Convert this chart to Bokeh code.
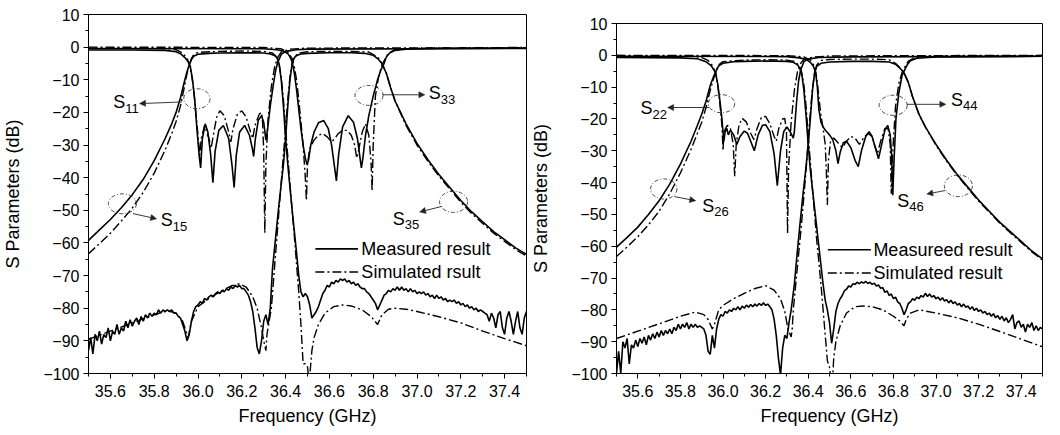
import numpy as np
from bokeh.plotting import figure
from bokeh.layouts import row, column
from bokeh.models import FixedTicker, Arrow, NormalHead, Range1d, PrintfTickFormatter, Spacer
from bokeh.embed import file_html
from bokeh.resources import INLINE
from bokeh.core.properties import value

FONT = "Liberation Sans"
STEP = 0.01

X_TICKS = [35.6, 35.8, 36.0, 36.2, 36.4, 36.6, 36.8, 37.0, 37.2, 37.4]
X_MINOR = [35.5, 35.7, 35.9, 36.1, 36.3, 36.5, 36.7, 36.9, 37.1, 37.3, 37.5]
Y_TICKS = [-100, -90, -80, -70, -60, -50, -40, -30, -20, -10, 0, 10]
Y_MINOR = [-95, -85, -75, -65, -55, -45, -35, -25, -15, -5, 5]

# ======================= LEFT PANEL =======================
L_S15_M_F = [35.50,35.55,35.60,35.65,35.70,35.75,35.80,35.85,35.88,35.90,
             35.92,35.94,35.95,35.96,35.97,35.98,36.00,36.05,36.10,36.20,
             36.30,36.33,36.35,36.36,36.37,36.38,36.39,36.40,36.41,36.43,
             36.45,36.46]
L_S15_M_DB = [-59.2,-56,-52.8,-49.2,-45.2,-40.5,-34.8,-28,-23.5,-20,
              -15.5,-10,-7.5,-5.5,-3.8,-2.8,-2.2,-1.9,-1.8,-1.7,
              -1.8,-2.1,-2.6,-3.2,-5,-10,-18,-28,-36,-50,
              -63,-70]
L_S15_M_NOISE_START = 36.47
L_S15_M_NOISE = [-75,-76.5,-75.5,-76.5,-79,-83,-82,-81,-79.5,-77.5,
                 -75.5,-74.5,-73,-73.5,-72,-72.5,-71.5,-72,-71,-71.5,
                 -71,-72,-71.5,-72.5,-72,-73,-72.5,-73.5,-74,-74,
                 -75,-75.5,-76.5,-77.5,-78.5,-80.5,-79,-77.5,-76,-75.5,
                 -74.5,-75,-74,-74.5,-73.5,-74.5,-73.5,-74.5,-74,-75,
                 -74,-75,-74.5,-75.5,-75,-75.5,-75,-76,-75.5,-76.5,
                 -76,-77,-76,-77,-76.5,-77.5,-77,-78,-77.5,-78,
                 -77.5,-78.5,-78,-79,-78.5,-79.5,-79,-80,-79.5,-80.5,
                 -80,-81,-80.5,-81,-81.5,-82,-84,-81.5,-83,-86,
                 -82,-81,-86,-88,-83,-81,-84,-88,-84,-81,
                 -86,-88,-83,-81]

L_S15_S_F = [35.50,35.55,35.60,35.65,35.70,35.75,35.80,35.85,35.88,35.90,
             35.92,35.94,35.95,35.96,35.97,35.98,36.00,36.10,36.20,36.30,
             36.34,36.36,36.37,36.38,36.39,36.40,36.42,36.44,36.46,36.47,
             36.48,36.49,36.50,36.505,36.51,36.515,36.52,36.53,36.55,36.58,
             36.62,36.66,36.70,36.75,36.79,36.82,36.84,36.87,36.90,36.95,
             37.00,37.10,37.20,37.30,37.40,37.50]
L_S15_S_DB = [-63.3,-60.2,-57,-53.3,-49.3,-44.5,-38.6,-31.5,-26.5,-22.8,
              -18,-11.5,-8,-5.5,-3.5,-2.3,-1.6,-1.3,-1.2,-1.3,
              -1.8,-3,-5,-9,-16,-25,-42,-58,-75,-85,
              -97,-97,-98,-101,-101,-97,-93,-89,-85,-81.5,
              -79.5,-79,-79.3,-80.5,-82.5,-85,-82,-80.3,-80,-80.3,
              -81,-82.6,-84.5,-87,-89.3,-91.5]

L_S35_M_NOISE_START = 35.50
L_S35_M_NOISE = [-93,-89,-94,-88,-90,-87,-91,-88,-89,-86,
                 -90,-87,-88,-85,-88,-86,-87,-84,-86,-83.5,
                 -85.5,-84,-83,-85,-82.5,-84,-82,-83,-81.5,-82.5,
                 -81.5,-82,-80.5,-81.5,-80.5,-81,-80.5,-81,-80.5,-81.5,
                 -81.5,-82.5,-83,-85,-87,-90,-88,-84,-81,-79.5,
                 -79,-78,-78.5,-77,-77.5,-76.5,-76,-76.5,-75.5,-75,
                 -75.5,-74.5,-75,-74,-74.5,-73.5,-74,-73,-73.5,-73,
                 -74,-74,-75,-76,-78,-81,-86,-92,-94,-90,
                 -84,-82,-85,-80]
L_S35_M_F = [36.34,36.355,36.37,36.39,36.40,36.41,36.42,36.43,36.44,36.45,
             36.47,36.50,36.60,36.70,36.76,36.80,36.82,36.84,36.86,36.88,
             36.90,36.95,37.00,37.05,37.10,37.15,37.20,37.25,37.30,37.35,
             37.40,37.45,37.50]
L_S35_M_DB = [-68,-58,-48,-36,-28,-18,-10,-5,-3.2,-2.6,
              -2.1,-1.9,-1.7,-1.7,-1.9,-2.5,-3.5,-5,-8,-12.5,
              -16.5,-23.5,-29.5,-34.5,-39,-43,-47,-50.5,-53.5,-56.5,
              -59,-61.5,-63.5]

L_S35_S_F = [35.50,35.60,35.70,35.80,35.86,35.90,35.93,35.955,35.97,36.00,
             36.05,36.10,36.15,36.19,36.22,36.25,36.27,36.29,36.30,36.31,
             36.315,36.32,36.335,36.35,36.37,36.39,36.40,36.41,36.42,36.43,
             36.44,36.46,36.50,36.60,36.70,36.78,36.82,36.84,36.86,36.88,
             36.90,36.95,37.00,37.05,37.10,37.15,37.20,37.25,37.30,37.35,
             37.40,37.45,37.50]
L_S35_S_DB = [-89.5,-87,-84.5,-82,-80.8,-81.5,-84,-89,-84,-79.5,
              -77,-75,-73.2,-72.5,-73.5,-76.5,-80,-86,-90,-93,
              -88,-86,-80,-67,-50,-33,-25,-16,-9,-5,
              -3,-1.8,-1.4,-1.3,-1.3,-1.5,-3,-5,-8,-12.5,
              -16.5,-24,-30,-35,-39.5,-43.5,-47.5,-51,-54,-57,
              -59.5,-62,-64]

L_S11_M_F = [35.50,35.70,35.85,35.90,35.92,35.94,35.955,35.965,35.975,35.985,
             35.995,36.005,36.012,36.02,36.033,36.045,36.058,36.068,36.078,36.095,
             36.116,36.14,36.155,36.165,36.175,36.19,36.213,36.235,36.248,36.254,
             36.262,36.275,36.29,36.30,36.31,36.318,36.33,36.345,36.355,36.365,
             36.38,36.40,36.45,36.50,37.50]
L_S11_M_DB = [-0.9,-0.9,-1.0,-1.4,-2.0,-3.2,-4.5,-6,-10,-16,
              -25,-33,-37,-28,-23.5,-26,-33,-41.5,-32,-25.5,
              -24,-28,-36,-43,-33,-26,-24,-27,-31,-33.5,
              -28,-22.5,-21,-23,-28.5,-25,-18,-11,-7,-4.5,
              -2.2,-1.3,-0.8,-0.6,-0.4]

L_S11_S_F = [35.50,35.85,35.90,35.93,35.95,35.96,35.97,35.98,35.99,36.00,
             36.008,36.015,36.03,36.05,36.06,36.07,36.085,36.10,36.12,36.14,
             36.15,36.16,36.18,36.20,36.22,36.24,36.25,36.26,36.28,36.29,
             36.295,36.30,36.305,36.31,36.32,36.335,36.35,36.365,36.38,36.42,
             36.50,37.50]
L_S11_S_DB = [-0.3,-0.4,-0.8,-1.8,-3.5,-5,-8,-13,-20,-27,
              -33,-28,-24,-28,-31,-27,-21.5,-19.5,-21,-26,
              -29,-25,-20.5,-19.5,-21.5,-26,-28,-24,-20.5,-20,
              -23,-32,-57,-36,-22,-12,-6,-3,-1.5,-0.6,
              -0.3,-0.2]

L_S33_M_F = [35.50,36.30,36.36,36.39,36.41,36.42,36.43,36.44,36.45,36.46,
             36.47,36.48,36.49,36.498,36.505,36.515,36.53,36.55,36.574,36.595,
             36.61,36.622,36.632,36.642,36.66,36.686,36.71,36.728,36.74,36.746,
             36.753,36.765,36.78,36.80,36.82,36.835,36.848,36.86,36.875,36.90,
             36.95,37.10,37.50]
L_S33_M_DB = [-0.4,-0.5,-0.8,-1.2,-2,-3,-4.5,-8,-13,-19,
              -25,-30,-34,-36,-34.5,-30,-26,-23.2,-22.5,-25,
              -30,-36,-41,-33,-24.5,-21,-23,-28,-34,-37,
              -34,-27,-21,-15,-10,-7,-5.3,-3,-1.8,-1.0,
              -0.6,-0.4,-0.35]

L_S33_S_F = [35.50,36.30,36.38,36.41,36.43,36.44,36.45,36.46,36.47,36.48,
             36.49,36.495,36.50,36.51,36.53,36.55,36.57,36.59,36.61,36.625,
             36.64,36.66,36.68,36.70,36.715,36.725,36.735,36.75,36.765,36.78,
             36.79,36.795,36.80,36.81,36.825,36.84,36.855,36.87,36.90,37.00,
             37.50]
L_S33_S_DB = [0.0,-0.1,-0.5,-1.5,-3.5,-6,-10,-16,-23,-30,
              -40,-47,-36,-31,-28.5,-27,-26.5,-27.5,-29,-28,
              -26.5,-25.5,-25.5,-27,-30,-34,-31,-26,-23.5,-27,
              -35,-44,-30,-15,-9,-5.5,-3.5,-1.8,-0.8,-0.3,
              -0.1]

# ======================= RIGHT PANEL =======================
R_S26_M_F = [35.50,35.55,35.60,35.65,35.70,35.75,35.80,35.85,35.88,35.90,
             35.92,35.94,35.955,35.97,35.98,36.00,36.05,36.10,36.20,36.30,
             36.33,36.35,36.36,36.37,36.38,36.39,36.40,36.41,36.43,36.45,
             36.46]
R_S26_M_DB = [-60.3,-57.2,-54,-50,-45.7,-40.5,-34.2,-27,-22,-18.5,
              -14.5,-9.5,-6.8,-4.6,-3.3,-2.5,-2.0,-1.9,-1.8,-1.9,
              -2.2,-3,-4,-6,-11,-19,-28,-36,-48,-60,
              -66]
R_S26_M_NOISE_START = 36.47
R_S26_M_NOISE = [-72,-77,-80,-84,-90.5,-86,-80.5,-78,-76.5,-75.5,
                 -74,-73.5,-72.5,-72.8,-71.8,-72,-71.3,-71.8,-71.2,-71.6,
                 -71,-71.7,-71.3,-72,-71.6,-72.5,-72.2,-73.2,-73,-74.5,
                 -74,-75.5,-75,-76.5,-76,-77.5,-78,-79.5,-81.5,-80,
                 -78,-77.5,-76.5,-77,-76,-76.5,-75.5,-76,-74.8,-75.8,
                 -75,-76,-75.5,-76.5,-76,-77,-76.2,-77.2,-76.8,-77.8,
                 -77,-78,-77.5,-78.5,-78,-79,-78.2,-79.2,-78.8,-79.8,
                 -79,-80.2,-79.5,-80.5,-80,-81,-80.5,-81.5,-81,-82,
                 -81.2,-82.5,-81.8,-83,-82,-83.5,-82.5,-84,-83,-81.5,
                 -86,-84,-83.5,-85.5,-84.5,-87,-84.5,-85.5,-84,-86.5,
                 -85,-86.5,-85.5,-86]

R_S26_S_F = [35.50,35.55,35.60,35.65,35.70,35.75,35.80,35.85,35.88,35.90,
             35.92,35.94,35.955,35.97,35.98,36.00,36.10,36.20,36.30,36.34,
             36.36,36.37,36.38,36.39,36.40,36.42,36.44,36.46,36.47,36.48,
             36.49,36.50,36.505,36.515,36.52,36.53,36.55,36.58,36.62,36.66,
             36.70,36.75,36.80,36.83,36.85,36.86,36.88,36.92,37.00,37.10,
             37.20,37.30,37.40,37.50]
R_S26_S_DB = [-63.2,-60.2,-57,-53.3,-49,-43.5,-37,-29.5,-24.5,-21,
              -16.5,-11,-7.5,-4.5,-3,-2,-1.5,-1.4,-1.5,-2,
              -3.5,-5.5,-9.5,-16,-25,-42,-58,-72,-80,-88,
              -96,-98,-101,-101,-95,-90,-85,-81,-79,-78.8,
              -79,-80,-82,-83.5,-85,-83,-81,-80,-81,-82.5,
              -84.5,-86.8,-89.2,-91.6]

R_S46_M_NOISE_START = 35.50
R_S46_M_NOISE = [-100,-93,-100,-90,-92,-89,-97,-91,-92,-89.5,
                 -91.5,-89,-90.5,-88.5,-91,-88,-89.5,-87.5,-89,-87,
                 -88.5,-86.5,-88,-86.5,-87.5,-86,-87.5,-85.5,-86.5,-84.5,
                 -86,-84.5,-85.5,-84,-86,-84.5,-85.5,-84.5,-85.5,-85,
                 -85.5,-86,-88,-93,-94,-88,-92,-86,-83,-81.5,
                 -82,-80.5,-81,-80,-80.5,-79.5,-80,-79,-80,-78.8,
                 -79.5,-78.5,-79.2,-78.3,-79,-78.2,-78.8,-78,-78.6,-77.8,
                 -78.6,-78.2,-79,-80,-83,-88,-95,-100.5,-92,-88,
                 -89,-84]
R_S46_M_F = [36.32,36.335,36.345,36.36,36.375,36.39,36.40,36.41,36.42,36.43,
             36.44,36.46,36.50,36.60,36.70,36.78,36.81,36.83,36.85,36.87,
             36.89,36.92,36.95,37.00,37.05,37.10,37.15,37.20,37.25,37.30,
             37.35,37.40,37.45,37.50]
R_S46_M_DB = [-80,-72,-64.5,-54,-44,-35,-28,-20,-11,-5.5,
              -3.5,-2.5,-2.1,-1.9,-1.9,-2.1,-2.8,-4,-5.5,-8.5,
              -13,-18.5,-22.5,-28,-33,-37.5,-41.5,-45.5,-49,-52.5,
              -55.5,-58.5,-61.5,-64]

R_S46_S_F = [35.50,35.60,35.70,35.80,35.87,35.91,35.93,35.95,35.96,35.98,
             36.00,36.05,36.10,36.15,36.20,36.24,36.27,36.29,36.305,36.32,
             36.325,36.33,36.35,36.37,36.39,36.40,36.41,36.42,36.43,36.44,
             36.46,36.50,36.60,36.70,36.78,36.81,36.83,36.85,36.87,36.89,
             36.92,36.95,37.00,37.05,37.10,37.15,37.20,37.25,37.30,37.35,
             37.40,37.45,37.50]
R_S46_S_DB = [-89,-86.7,-84.4,-82,-80.7,-81.5,-83,-86,-84.5,-80,
              -78.6,-76.5,-74.8,-73.3,-72.4,-73.8,-76.5,-80.5,-86,-88.5,
              -86,-80,-66,-52,-36,-27,-18,-10.5,-5.5,-3,
              -1.6,-1.3,-1.2,-1.2,-1.4,-2.5,-3.8,-5.5,-8.5,-13,
              -18.5,-22.5,-28.3,-33.3,-37.8,-41.8,-45.8,-49.3,-52.8,-55.8,
              -58.8,-61.8,-64.3]

R_S22_M_F = [35.50,35.80,35.88,35.92,35.945,35.965,35.975,35.985,35.995,36.00,
             36.004,36.01,36.018,36.025,36.035,36.05,36.065,36.08,36.10,36.115,
             36.13,36.147,36.165,36.185,36.20,36.22,36.24,36.255,36.27,36.285,
             36.30,36.315,36.33,36.335,36.345,36.355,36.365,36.38,36.40,36.45,
             36.60,37.50]
R_S22_M_DB = [-0.7,-0.8,-1.1,-2,-3.3,-5.4,-9,-14,-20,-24,
              -27,-24,-23,-25,-23.5,-25,-28,-25.5,-23.8,-24.5,
              -27,-30,-25,-22,-21.8,-24,-31,-41,-30,-24,
              -22.5,-24,-26,-24,-15,-8,-4.5,-2,-1.2,-0.7,
              -0.5,-0.3]

R_S22_S_F = [35.50,35.85,35.90,35.93,35.95,35.965,35.975,35.985,35.995,36.00,
             36.005,36.02,36.035,36.048,36.055,36.062,36.075,36.09,36.11,36.13,
             36.145,36.16,36.18,36.20,36.22,36.24,36.25,36.262,36.28,36.29,
             36.298,36.303,36.308,36.32,36.335,36.35,36.365,36.38,36.42,36.50,
             37.50]
R_S22_S_DB = [-0.2,-0.3,-0.7,-1.6,-3.2,-5.5,-9,-15,-22,-30,
              -24,-22,-23,-28,-38,-28,-22,-19.8,-21,-24.5,
              -26.5,-23,-19.5,-19.2,-21.5,-25.5,-27,-23,-20,-19.8,
              -24,-56,-35,-21,-11,-5,-2.5,-1.3,-0.6,-0.2,
              0.0]

R_S44_M_F = [35.50,36.30,36.36,36.39,36.41,36.425,36.435,36.443,36.45,36.46,
             36.47,36.48,36.50,36.515,36.53,36.54,36.55,36.565,36.58,36.60,
             36.62,36.635,36.65,36.67,36.686,36.70,36.715,36.73,36.745,36.76,
             36.773,36.785,36.792,36.797,36.803,36.812,36.825,36.84,36.85,36.865,
             36.88,36.91,37.00,37.50]
R_S44_M_DB = [-0.3,-0.4,-0.8,-1.3,-2.2,-3.5,-5.5,-10,-17,-21,
              -22.5,-23.5,-25,-26.5,-30,-34,-30.5,-27.5,-27,-29,
              -33,-35,-30,-25.5,-24,-25.5,-29,-32.5,-28,-23.5,
              -22,-25,-32,-44,-33,-20,-12,-6.5,-5,-3,
              -1.7,-0.9,-0.5,-0.3]

R_S44_S_F = [35.50,36.30,36.38,36.41,36.43,36.44,36.45,36.46,36.47,36.48,
             36.485,36.49,36.495,36.505,36.52,36.54,36.56,36.58,36.60,36.62,
             36.64,36.66,36.68,36.70,36.715,36.725,36.74,36.76,36.775,36.785,
             36.79,36.797,36.81,36.825,36.84,36.855,36.87,36.90,37.00,37.50]
R_S44_S_DB = [0.0,-0.1,-0.5,-1.5,-3.5,-7,-13,-19,-23,-28,
              -36,-47,-33,-27,-26,-27.5,-29,-27,-25.5,-26,
              -28,-26,-24.5,-25.5,-29,-31,-27,-23,-23,-28,
              -43.5,-30,-16,-9,-5.5,-3.5,-1.8,-0.8,-0.3,-0.1]

# ---------------- annotations (data units) ----------------
L_LABELS = [(35.613, -16.9, "11"), (37.054, -14.1, "33"), (35.830, -53.1, "15"), (36.889, -52.6, "35")]
R_LABELS = [(35.613, -16.6, "22"), (37.071, -14.0, "44"), (35.903, -47.3, "26"), (36.818, -45.7, "46")]
L_ELLIPSES = [(35.995, -15.8, 0.120, 6.1), (36.781, -14.8, 0.128, 6.1),
              (35.655, -48.0, 0.128, 6.1), (37.167, -47.4, 0.128, 6.5)]
R_ELLIPSES = [(35.993, -15.2, 0.124, 5.7), (36.799, -15.7, 0.132, 6.3),
              (35.722, -42.0, 0.124, 6.3), (37.105, -41.0, 0.132, 6.8)]
L_ARROWS = [(35.928, -16.8, 35.733, -17.3), (36.844, -14.6, 37.036, -14.6),
            (35.703, -51.0, 35.811, -52.6), (37.114, -48.8, 37.012, -50.5)]
R_ARROWS = [(35.934, -16.4, 35.740, -16.4), (36.864, -15.4, 37.046, -15.4),
            (35.771, -44.4, 35.872, -45.7), (37.043, -42.5, 36.957, -43.6)]
L_LEGEND = (36.536, 36.731, 36.746, -61.8, -68.9, "Measured result", "Simulated rsult")
R_LEGEND = (36.492, 36.694, 36.706, -61.1, -68.4, "Measureed result", "Simulated result")

DASHDOT = "9 3 2 3"


def noise_curve(start, vals):
    f = np.round(start + STEP * np.arange(len(vals)), 3)
    return list(f), list(vals)


def make_fig(w, h, bl, br, bt, bb):
    p = figure(width=w, height=h, output_backend="svg", toolbar_location=None,
               x_range=Range1d(35.5, 37.5), y_range=Range1d(-100, 10),
               min_border_left=bl, min_border_right=br, min_border_top=bt, min_border_bottom=bb)
    p.xgrid.visible = False
    p.ygrid.visible = False
    p.outline_line_color = "black"
    p.outline_line_width = 1
    p.background_fill_color = "white"
    p.border_fill_color = "white"
    p.xaxis.ticker = FixedTicker(ticks=X_TICKS, minor_ticks=X_MINOR)
    p.yaxis.ticker = FixedTicker(ticks=Y_TICKS, minor_ticks=Y_MINOR)
    p.xaxis.formatter = PrintfTickFormatter(format="%.1f")
    p.xaxis.axis_label = "Frequency (GHz)"
    p.yaxis.axis_label = "S Parameters (dB)"
    for ax in (p.xaxis, p.yaxis):
        ax.axis_line_color = "black"
        ax.major_tick_line_color = "black"
        ax.minor_tick_line_color = "black"
        ax.major_tick_out = 5
        ax.major_tick_in = 0
        ax.minor_tick_out = 3
        ax.minor_tick_in = 0
        ax.major_label_text_font = FONT
        ax.major_label_text_font_size = "16px"
        ax.major_label_text_color = "black"
        ax.axis_label_text_font = FONT
        ax.axis_label_text_font_size = "18px"
        ax.axis_label_text_font_style = "normal"
        ax.axis_label_text_color = "black"
    p.xaxis.major_label_standoff = 6
    p.yaxis.major_label_standoff = 4
    p.xaxis.axis_label_standoff = 6
    p.yaxis.axis_label_standoff = 17
    return p


def draw_meas(p, f, db):
    p.line(f, db, line_color="black", line_width=1.6)


def draw_sim(p, f, db):
    p.line(f, db, line_color="black", line_width=1.4, line_dash=DASHDOT)


def annotate(p, labels, ellipses, arrows, legend):
    for (x, y, w, h) in ellipses:
        p.ellipse(x=[x], y=[y], width=[w], height=[h], fill_color=None,
                  line_color="#333333", line_width=0.9, line_dash="4 2 1 2")
    for (x0, y0, x1, y1) in arrows:
        p.add_layout(Arrow(x_start=x0, y_start=y0, x_end=x1, y_end=y1,
                           line_color="#222222", line_width=0.9,
                           end=NormalHead(size=6, line_color="#222222", fill_color="#222222", line_width=0.5)))
    for (x, y, sub) in labels:
        p.text(x=[x], y=[y], text=["S"], text_font=value(FONT), text_font_size="18px",
               text_align="left", text_baseline="middle", text_color="black")
        p.text(x=[x], y=[y], text=[sub], text_font=value(FONT), text_font_size="13px",
               text_align="left", text_baseline="middle", text_color="black",
               x_offset=12, y_offset=6)
    x0, x1, xt, y1, y2, t1, t2 = legend
    p.line([x0, x1], [y1, y1], line_color="black", line_width=1.6)
    p.line([x0, x1], [y2, y2], line_color="black", line_width=1.4, line_dash=DASHDOT)
    p.text(x=[xt, xt], y=[y1, y2], text=[t1, t2], text_font=value(FONT), text_font_size="18px",
           text_align="left", text_baseline="middle", text_color="black")


# ---------------- left figure: frame 444 x 359 ----------------
pl = make_fig(528, 431, 82, 2, 14, 58)
nf, nd = noise_curve(L_S15_M_NOISE_START, L_S15_M_NOISE)
draw_meas(pl, L_S15_M_F + nf, L_S15_M_DB + nd)
draw_sim(pl, L_S15_S_F, L_S15_S_DB)
nf, nd = noise_curve(L_S35_M_NOISE_START, L_S35_M_NOISE)
draw_meas(pl, nf + L_S35_M_F, nd + L_S35_M_DB)
draw_sim(pl, L_S35_S_F, L_S35_S_DB)
draw_meas(pl, L_S11_M_F, L_S11_M_DB)
draw_sim(pl, L_S11_S_F, L_S11_S_DB)
draw_meas(pl, L_S33_M_F, L_S33_M_DB)
draw_sim(pl, L_S33_S_F, L_S33_S_DB)
annotate(pl, L_LABELS, L_ELLIPSES, L_ARROWS, L_LEGEND)

# ---------------- right figure: frame 430 x 350 ----------------
pr = make_fig(519, 422, 84, 5, 14, 58)
nf, nd = noise_curve(R_S26_M_NOISE_START, R_S26_M_NOISE)
draw_meas(pr, R_S26_M_F + nf, R_S26_M_DB + nd)
draw_sim(pr, R_S26_S_F, R_S26_S_DB)
nf, nd = noise_curve(R_S46_M_NOISE_START, R_S46_M_NOISE)
draw_meas(pr, nf + R_S46_M_F, nd + R_S46_M_DB)
draw_sim(pr, R_S46_S_F, R_S46_S_DB)
draw_meas(pr, R_S22_M_F, R_S22_M_DB)
draw_sim(pr, R_S22_S_F, R_S22_S_DB)
draw_meas(pr, R_S44_M_F, R_S44_M_DB)
draw_sim(pr, R_S44_S_F, R_S44_S_DB)
annotate(pr, R_LABELS, R_ELLIPSES, R_ARROWS, R_LEGEND)

layout = row(pl, column(Spacer(width=519, height=9), pr))
open("out.html", "w").write(file_html(layout, INLINE))
